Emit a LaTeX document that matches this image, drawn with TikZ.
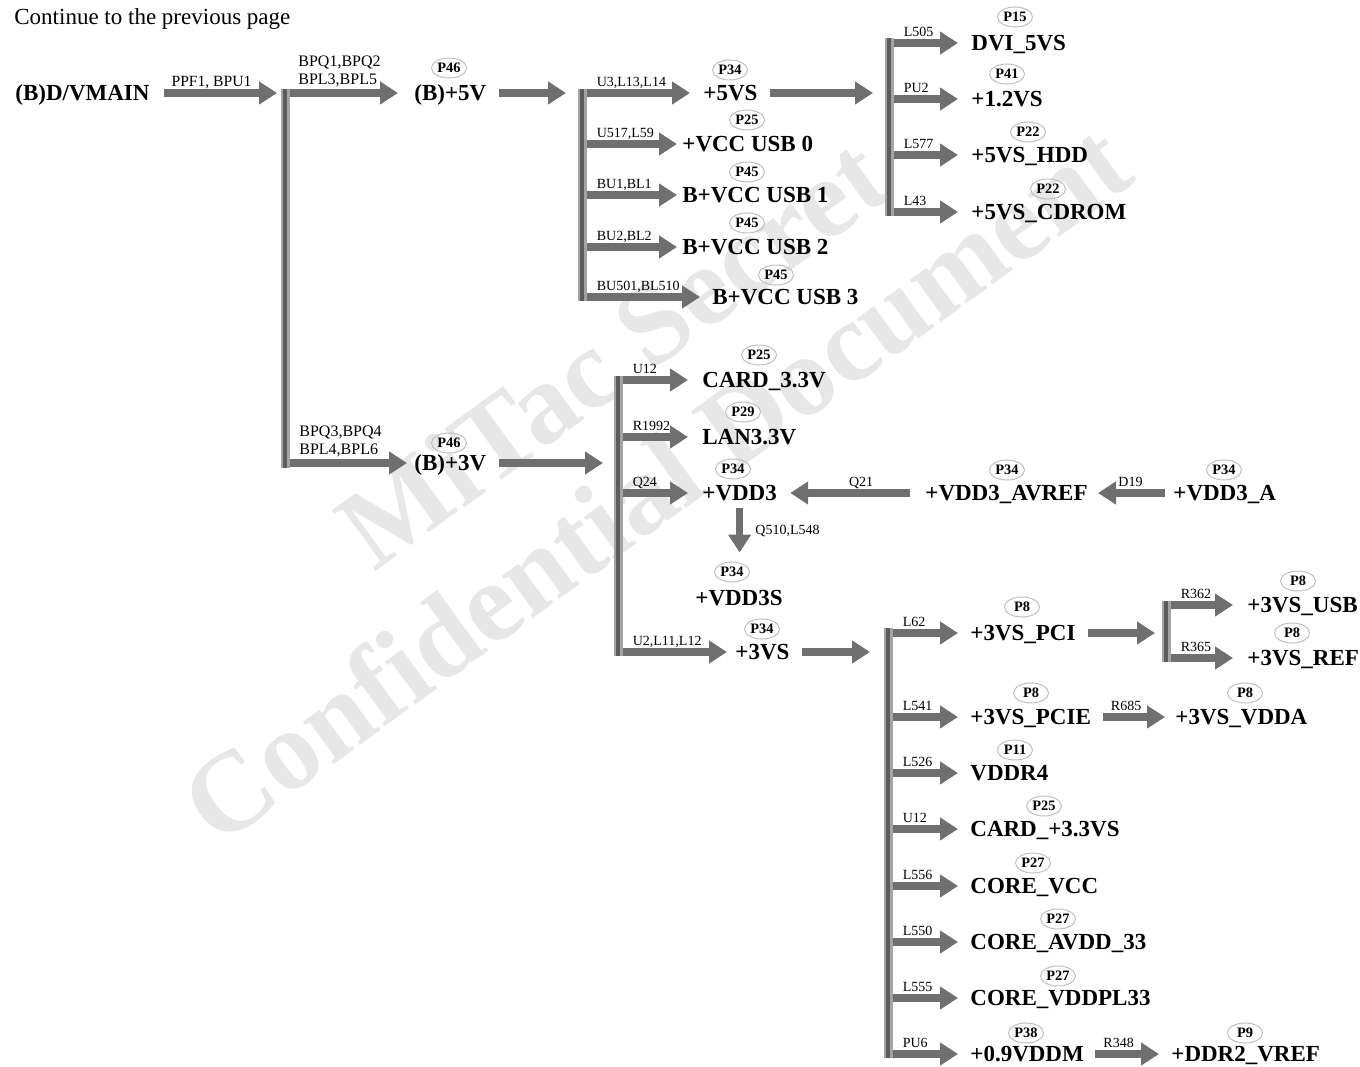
\documentclass[tikz,border=0pt]{standalone}
\usepackage{fontspec}
\setmainfont{Liberation Serif}
\usepackage{tikz}
\usetikzlibrary{arrows.meta, positioning, shapes.geometric}
\definecolor{pgray}{HTML}{6F6F6F}
\definecolor{plight}{HTML}{A4A4A4}
\definecolor{pdark}{HTML}{5C5C5C}
\definecolor{wmark}{HTML}{E7E7E7}

\begin{document}
\begin{tikzpicture}[x=0.5pt, y=-0.5pt,
  net/.style={anchor=west, inner sep=0pt, text height=7.6pt, text depth=0pt, font=\fontsize{11.5}{13}\selectfont\bfseries},
  tag/.style={ellipse, draw=gray!50, line width=0.5pt, inner sep=0pt, minimum width=17.5pt, minimum height=10pt, font=\fontsize{7.2}{8}\selectfont\bfseries},
  part/.style={inner sep=0pt, font=\fontsize{7}{8}\selectfont},
  pwr/.style={draw=pgray, line width=3.8pt, -{Triangle[length=9pt, width=11pt]}, shorten <=6pt, shorten >=6pt},
  tap/.style={pwr, shorten <=0pt},
  bus/.style={draw=plight, line width=4.5pt, postaction={draw=pdark, line width=2pt}},
  tlbl/.style={part, pos=0, anchor=base west, xshift=5.5pt, yshift=3.5pt},
  mlbl/.style={part, midway, anchor=base, yshift=3.5pt},
  wmk/.style={text=wmark, rotate=36, inner sep=0pt, font=\fontsize{57}{60}\selectfont\bfseries}]
\useasboundingbox (0,0) rectangle (1360,1066);

% watermark
\node[wmk] (wma) at (612,352) {MiTac Secret};
\node[wmk] (wmb) at (655,482) {Confidential Document};

\node[part, anchor=base west, font=\fontsize{11.5}{13}\selectfont] (title) at (14,24) {Continue to the previous page};

% (B)D/VMAIN
\node[net] (vmain) at (15,93) {(B)D/VMAIN};
\coordinate (bus1t) at (285,89);
\coordinate (bus1b) at (285,468);
\node[net] (bfive) at (414,93) {(B)+5V};
\node[tag] (tbfive) at (449,68) {P46};
\node[net] (bthree) at (414,463) {(B)+3V};
\node[tag] (tbthree) at (449,443) {P46};
\draw[pwr, shorten <=7pt, shorten >=4pt] (vmain.east) -- (bus1t |- vmain.east) node[mlbl, xshift=-3pt, font=\fontsize{7.8}{9}\selectfont] {PPF1, BPU1};
\draw[tap, shorten >=8pt] (bus1t |- bfive.west) -- (bfive.west);
\draw[tap, shorten >=3.5pt] (bus1t |- bthree.west) -- (bthree.west);
\node[part, anchor=south west, align=left, font=\fontsize{8}{9}\selectfont] (lbq1) at (298,87) {BPQ1,BPQ2\\BPL3,BPL5};
\node[part, anchor=south west, align=left, font=\fontsize{8}{9}\selectfont] (lbq3) at (299,457) {BPQ3,BPQ4\\BPL4,BPL6};
\draw[bus] (bus1t) -- (bus1b);

% (B)+5V
\coordinate (bus2t) at (582,89);
\coordinate (bus2b) at (582,301);
\draw[pwr, shorten >=8pt] (bfive.east) -- (bus2t |- bfive.east);
\node[net] (fivevs) at (703,93) {+5VS};
\node[tag] (tfivevs) at (730,70) {P34};
\node[net] (usb0) at (682,144) {+VCC USB 0};
\node[tag] (tusb0) at (747,120) {P25};
\node[net] (usb1) at (682,195) {B+VCC USB 1};
\node[tag] (tusb1) at (747,172) {P45};
\node[net] (usb2) at (682,247) {B+VCC USB 2};
\node[tag] (tusb2) at (747,223) {P45};
\node[net] (usb3) at (712,297) {B+VCC USB 3};
\node[tag] (tusb3) at (776,275) {P45};
\draw[tap, shorten >=6.5pt] (bus2t |- fivevs.west) -- (fivevs.west) node[tlbl] {U3,L13,L14};
\draw[tap, shorten >=2.5pt] (bus2t |- usb0.west) -- (usb0.west) node[tlbl] {U517,L59};
\draw[tap, shorten >=2.5pt] (bus2t |- usb1.west) -- (usb1.west) node[tlbl] {BU1,BL1};
\draw[tap, shorten >=2.5pt] (bus2t |- usb2.west) -- (usb2.west) node[tlbl] {BU2,BL2};
\draw[tap, shorten >=6pt] (bus2t |- usb3.west) -- (usb3.west) node[tlbl] {BU501,BL510};
\draw[bus] (bus2t) -- (bus2b);

% +5VS
\coordinate (bus3t) at (889,38);
\coordinate (bus3b) at (889,216);
\draw[pwr, shorten >=8pt] (fivevs.east) -- (bus3t |- fivevs.east);
\node[net] (dvi) at (971,43) {DVI\_5VS};
\node[tag] (tdvi) at (1015,17) {P15};
\node[net] (onetwo) at (971,99) {+1.2VS};
\node[tag] (tonetwo) at (1007,74) {P41};
\node[net] (hdd) at (971,155) {+5VS\_HDD};
\node[tag] (thdd) at (1028,132) {P22};
\node[net] (cdrom) at (971,212) {+5VS\_CDROM};
\node[tag] (tcdrom) at (1048,189) {P22};
\draw[tap, shorten >=6.5pt] (bus3t |- dvi.west) -- (dvi.west) node[tlbl] {L505};
\draw[tap, shorten >=6.5pt] (bus3t |- onetwo.west) -- (onetwo.west) node[tlbl] {PU2};
\draw[tap, shorten >=6.5pt] (bus3t |- hdd.west) -- (hdd.west) node[tlbl] {L577};
\draw[tap, shorten >=6.5pt] (bus3t |- cdrom.west) -- (cdrom.west) node[tlbl] {L43};
\draw[bus] (bus3t) -- (bus3b);

% (B)+3V
\coordinate (bus4t) at (618,376);
\coordinate (bus4b) at (618,656);
\draw[pwr, shorten >=7.5pt] (bthree.east) -- (bus4t |- bthree.east);
\node[net] (card) at (702,380) {CARD\_3.3V};
\node[tag] (tcard) at (759,355) {P25};
\node[net] (lan) at (702,437) {LAN3.3V};
\node[tag] (tlan) at (743,412) {P29};
\node[net] (vdd3) at (702,493) {+VDD3};
\node[tag] (tvdd3) at (733,469) {P34};
\node[net] (vdd3s) at (695,598) {+VDD3S};
\node[tag] (tvdd3s) at (732,572) {P34};
\node[net] (threevs) at (735,652) {+3VS};
\node[tag] (tthreevs) at (762,629) {P34};
\node[net] (avref) at (925,493) {+VDD3\_AVREF};
\node[tag] (tavref) at (1007,470) {P34};
\node[net] (vdd3a) at (1173,493) {+VDD3\_A};
\node[tag] (tvdd3a) at (1224,470) {P34};
\draw[tap, shorten >=7pt] (bus4t |- card.west) -- (card.west) node[tlbl] {U12};
\draw[tap, shorten >=7pt] (bus4t |- lan.west) -- (lan.west) node[tlbl] {R1992};
\draw[tap, shorten >=7pt] (bus4t |- vdd3.west) -- (vdd3.west) node[tlbl] {Q24};
\draw[tap, shorten >=4pt] (bus4t |- threevs.west) -- (threevs.west) node[tlbl] {U2,L11,L12};
\draw[pwr, shorten <=7.5pt, shorten >=6.5pt] (avref.west) -- (vdd3.east) node[mlbl, xshift=5pt] {Q21};
\draw[pwr, shorten <=4pt, shorten >=5pt] (vdd3a.west) -- (avref.east) node[mlbl] {D19};
\draw[pwr, shorten <=3.7pt, shorten >=4.5pt] (vdd3.south) -- (vdd3.south |- tvdd3s.north) node[part, midway, anchor=west, xshift=6pt] {Q510,L548};
\draw[bus] (bus4t) -- (bus4b);

% +3VS
\coordinate (bus5t) at (888,628);
\coordinate (bus5b) at (888,1058);
\draw[pwr, shorten >=9pt] (threevs.east) -- (bus5t |- threevs.east);
\node[net] (pci) at (970,633) {+3VS\_PCI};
\node[tag] (tpci) at (1022,607) {P8};
\node[net] (pcie) at (970,717) {+3VS\_PCIE};
\node[tag] (tpcie) at (1031,693) {P8};
\node[net] (vddr) at (970,773) {VDDR4};
\node[tag] (tvddr) at (1015,750) {P11};
\node[net] (cardvs) at (970,829) {CARD\_+3.3VS};
\node[tag] (tcardvs) at (1044,806) {P25};
\node[net] (corevcc) at (970,886) {CORE\_VCC};
\node[tag] (tcorevcc) at (1033,863) {P27};
\node[net] (coreavdd) at (970,942) {CORE\_AVDD\_33};
\node[tag] (tcoreavdd) at (1058,919) {P27};
\node[net] (corepll) at (970,998) {CORE\_VDDPL33};
\node[tag] (tcorepll) at (1058,976) {P27};
\node[net] (vddm) at (970,1054) {+0.9VDDM};
\node[tag] (tvddm) at (1026,1033) {P38};
\node[net] (vdda) at (1175,717) {+3VS\_VDDA};
\node[tag] (tvdda) at (1245,693) {P8};
\node[net] (vref) at (1171,1054) {+DDR2\_VREF};
\node[tag] (tvref) at (1245,1033) {P9};
\draw[tap] (bus5t |- pci.west) -- (pci.west) node[tlbl] {L62};
\draw[tap] (bus5t |- pcie.west) -- (pcie.west) node[tlbl] {L541};
\draw[tap] (bus5t |- vddr.west) -- (vddr.west) node[tlbl] {L526};
\draw[tap] (bus5t |- cardvs.west) -- (cardvs.west) node[tlbl] {U12};
\draw[tap] (bus5t |- corevcc.west) -- (corevcc.west) node[tlbl] {L556};
\draw[tap] (bus5t |- coreavdd.west) -- (coreavdd.west) node[tlbl] {L550};
\draw[tap] (bus5t |- corepll.west) -- (corepll.west) node[tlbl] {L555};
\draw[tap] (bus5t |- vddm.west) -- (vddm.west) node[tlbl] {PU6};
\draw[pwr, shorten >=5pt] (pcie.east) -- (vdda.west) node[mlbl, xshift=-3.5pt] {R685};
\draw[pwr, shorten <=5.5pt] (vddm.east) -- (vref.west) node[mlbl, xshift=-4.5pt] {R348};
\draw[bus] (bus5t) -- (bus5b);

% +3VS_PCI
\coordinate (bus6t) at (1166,601);
\coordinate (bus6b) at (1166,662);
\draw[pwr, shorten >=5.5pt] (pci.east) -- (bus6t |- pci.east);
\node[net] (vsusb) at (1247,605) {+3VS\_USB};
\node[tag] (tvsusb) at (1298,581) {P8};
\node[net] (vsref) at (1247,658) {+3VS\_REF};
\node[tag] (tvsref) at (1292,633) {P8};
\draw[tap, shorten >=7pt] (bus6t |- vsusb.west) -- (vsusb.west) node[tlbl] {R362};
\draw[tap, shorten >=7pt] (bus6t |- vsref.west) -- (vsref.west) node[tlbl] {R365};
\draw[bus] (bus6t) -- (bus6b);
\end{tikzpicture}
\end{document}
